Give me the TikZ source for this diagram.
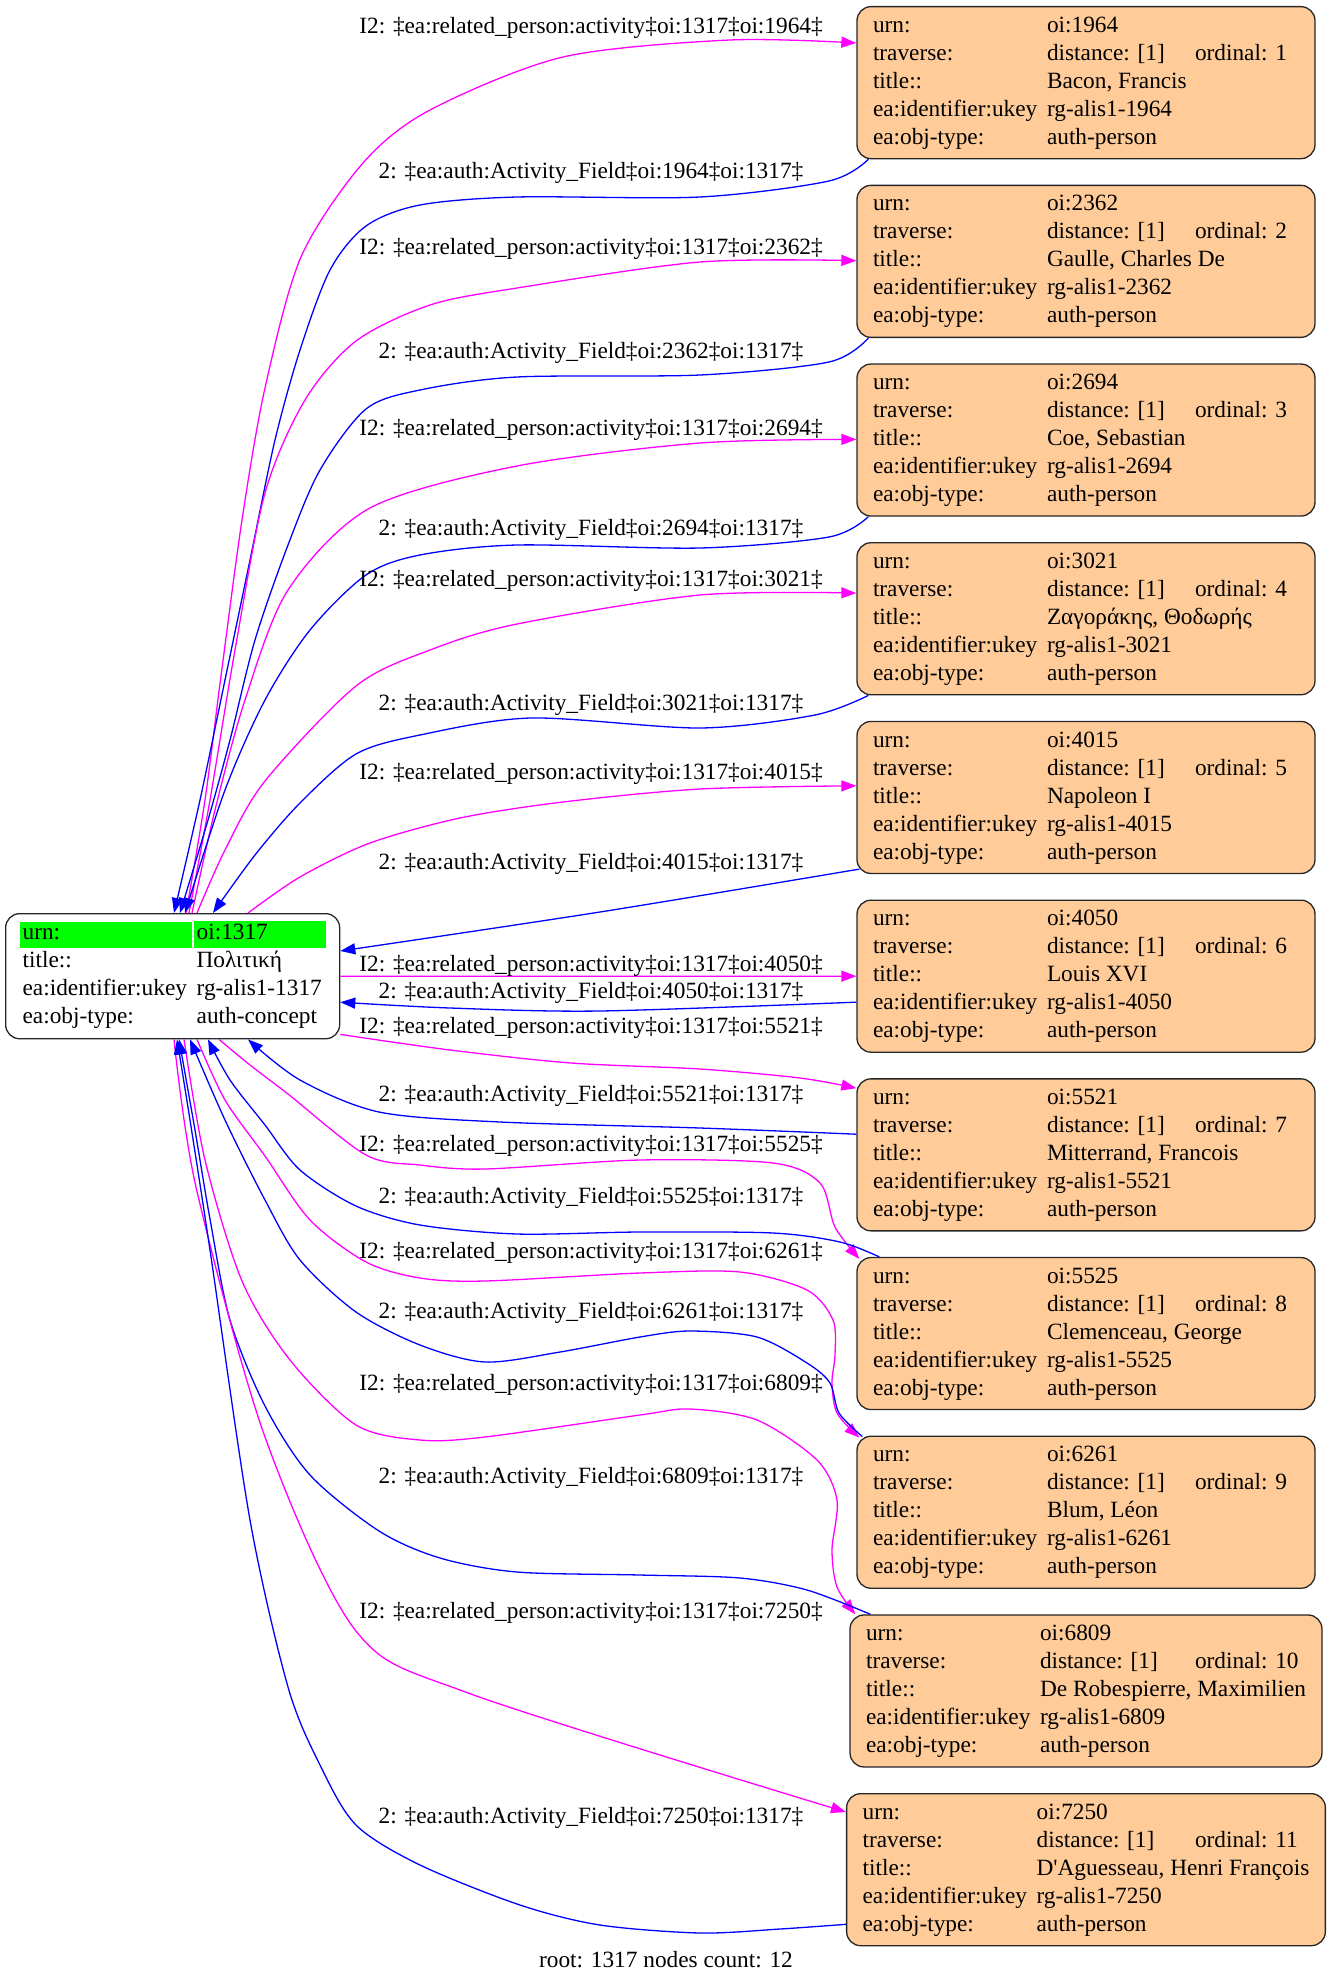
\documentclass[tikz,border=0pt]{standalone}
\usepackage{fontspec}
\setmainfont{Liberation Serif}[Ligatures=TeXOff]
\usepackage{array}
\usetikzlibrary{arrows.meta}
\definecolor{peach}{HTML}{FFCC99}
\definecolor{cellgreen}{HTML}{00FF00}
\definecolor{linkmag}{HTML}{FF00FF}
\definecolor{linkblue}{HTML}{0000FF}
\newcommand{\gvfont}{\fontsize{23.3pt}{28pt}\selectfont}
\newcommand{\card}[3]{%
\begin{tabular}{@{}w{l}{164pt}@{\hspace{10pt}}w{l}{117pt}@{\hspace{31pt}}w{l}{104pt}@{}}
urn: & \multicolumn{2}{@{}l@{}}{oi:#1}\\
traverse: & distance: [1] & ordinal: #2\\
title:: & \multicolumn{2}{@{}l@{}}{#3}\\
ea:identifier:ukey & \multicolumn{2}{@{}l@{}}{rg-alis1-#1}\\
ea:obj-type: & \multicolumn{2}{@{}l@{}}{auth-person}
\end{tabular}}
\newcommand{\greencell}[2]{\colorbox{cellgreen}{\makebox[#1][l]{\rule[-5.5pt]{0pt}{20.5pt}#2}}}

\begin{document}
\begin{tikzpicture}[x=1pt,y=-1pt,
    person/.style={draw=black!85, line width=1.3pt, fill=peach, rounded corners=14pt,
      inner xsep=16pt, inner ysep=6pt, anchor=north, font=\gvfont},
    concept/.style={draw=black!85, line width=1.3pt, rounded corners=14pt,
      inner xsep=14pt, inner ysep=6.5pt, anchor=north west, font=\gvfont},
    lbl/.style={inner sep=0pt, font=\gvfont},
    mline/.style={draw=linkmag, line width=1.3pt, -{Triangle[length=15pt,width=11pt]}},
    bline/.style={draw=linkblue, line width=1.3pt, -{Triangle[length=15pt,width=11pt]}}]
\useasboundingbox (0,0) rectangle (1333,1983);

\node[concept] (root) at (5,913) {\begin{tabular}{@{}l@{}l@{}}
\greencell{166pt}{urn:} & \hspace{2pt}\greencell{126pt}{oi:1317}\\
\hspace{3pt}title:: & \hspace{5pt}Πολιτική\\
\hspace{3pt}ea:identifier:ukey & \hspace{5pt}rg-alis1-1317\\
\hspace{3pt}ea:obj-type: & \hspace{5pt}auth-concept
\end{tabular}};

\node[person] (p1) at (1086,6) {\card{1964}{1}{Bacon, Francis}};
\node[person] (p2) at (1086,184.7) {\card{2362}{2}{Gaulle, Charles De}};
\node[person] (p3) at (1086,363.4) {\card{2694}{3}{Coe, Sebastian}};
\node[person] (p4) at (1086,542.1) {\card{3021}{4}{Ζαγοράκης, Θοδωρής}};
\node[person] (p5) at (1086,720.8) {\card{4015}{5}{Napoleon I}};
\node[person] (p6) at (1086,899.5) {\card{4050}{6}{Louis XVI}};
\node[person] (p7) at (1086,1078.2) {\card{5521}{7}{Mitterrand, Francois}};
\node[person] (p8) at (1086,1256.9) {\card{5525}{8}{Clemenceau, George}};
\node[person] (p9) at (1086,1435.6) {\card{6261}{9}{Blum, Léon}};
\node[person] (p10) at (1086,1614.3) {\card{6809}{10}{De Robespierre, Maximilien}};
\node[person] (p11) at (1086,1793) {\card{7250}{11}{D'Aguesseau, Henri François}};

\draw[mline] plot[smooth] coordinates {([shift={(181,0)}]root.north west) (205,800) (221,676) (242,520) (265,388) (301,257) (363,163) (430,110) (563,57) (730,40) ([shift={(0,37)}]p1.north west)};
\draw[bline] plot[smooth] coordinates {([shift={(12,0)}]p1.south west) (829,181) (700,197) (517,197) (420,205) (366,226) (330,270) (300,350) (275,440) (250,560) (225,680) (200,800) ([shift={(169,0)}]root.north west)};
\draw[mline] plot[smooth] coordinates {([shift={(184,0)}]root.north west) (210,800) (235,650) (265,493) (305,400) (356,341) (430,305) (517,288) (700,262) ([shift={(0,76)}]p2.north west)};
\draw[bline] plot[smooth] coordinates {([shift={(12,0)}]p2.south west) (829,362) (700,375) (517,377) (420,390) (366,409) (320,470) (288,545) (255,640) (230,740) (208,820) ([shift={(175,0)}]root.north west)};
\draw[mline] plot[smooth] coordinates {([shift={(187,0)}]root.north west) (215,810) (245,700) (288,590) (370,508) (517,466) (700,443) ([shift={(0,76)}]p3.north west)};
\draw[bline] plot[smooth] coordinates {([shift={(12,0)}]p3.south west) (829,537) (700,548) (517,545) (420,555) (366,575) (310,630) (265,700) (225,790) ([shift={(180,0)}]root.north west)};
\draw[mline] plot[smooth] coordinates {([shift={(192,0)}]root.north west) (225,850) (265,781) (356,686) (430,650) (517,624) (700,595) ([shift={(0,51)}]p4.north west)};
\draw[bline] plot[smooth] coordinates {([shift={(12,0)}]p4.south west) (815,715) (700,728) (531,718) (420,735) (356,754) (300,803) (255,855) ([shift={(208,0)}]root.north west)};
\draw[mline] plot[smooth] coordinates {([shift={(243,0)}]root.north west) (300,877) (370,843) (460,818) (563,802) (700,789) ([shift={(0,65)}]p5.north west)};
\draw[bline] plot[smooth] coordinates {([shift={(3,-5)}]p5.south west) (600,912) ([shift={(0,38)}]root.north east)};
\draw[mline] (root.east) -- (p6.west);
\draw[bline] plot[smooth] coordinates {([shift={(0,26)}]p6.west) (600,1011) (450,1008) ([shift={(0,26)}]root.east)};
\draw[mline] plot[smooth] coordinates {([shift={(0,-5)}]root.south east) (450,1050) (571,1063) (700,1069) (800,1078) ([shift={(0,10)}]p7.north west)};
\draw[bline] plot[smooth] coordinates {([shift={(0,56)}]p7.north west) (700,1128) (500,1122) (379,1112) (300,1080) ([shift={(243,0)}]root.south west)};
\draw[mline] plot[smooth] coordinates {([shift={(214,0)}]root.south west) (250,1065) (288,1094) (366,1155) (420,1165) (485,1169) (640,1160) (773,1163) (820,1183) (835,1227) ([shift={(3,2)}]p8.north west)};
\draw[bline] plot[smooth] coordinates {([shift={(23,0)}]p8.north west) (840,1242) (773,1233) (640,1232) (517,1234) (420,1225) (356,1206) (300,1170) (265,1125) (230,1080) ([shift={(203,0)}]root.south west)};
\draw[mline] plot[smooth] coordinates {([shift={(192,0)}]root.south west) (225,1100) (265,1156) (310,1220) (366,1262) (420,1278) (485,1281) (640,1273) (740,1272) (807,1290) (833,1320) (835,1355) (832,1383) (837,1413) ([shift={(3,2)}]p9.north west)};
\draw[bline] plot[smooth] coordinates {([shift={(6,1)}]p9.north west) (839,1413) (830,1383) (807,1363) (757,1337) (690,1331) (640,1337) (560,1352) (485,1362) (420,1345) (356,1312) (300,1260) (265,1200) (225,1120) ([shift={(185,0)}]root.south west)};
\draw[mline] plot[smooth] coordinates {([shift={(179,0)}]root.south west) (205,1160) (242,1281) (290,1360) (356,1425) (420,1440) (485,1437) (640,1415) (690,1409) (757,1420) (817,1460) (837,1500) (832,1550) (837,1587) ([shift={(6,0)}]p10.north west)};
\draw[bline] plot[smooth] coordinates {([shift={(21,0)}]p10.north west) (807,1590) (740,1578) (640,1575) (517,1572) (440,1558) (379,1531) (310,1475) (265,1406) (230,1320) (210,1219) (195,1130) ([shift={(174,0)}]root.south west)};
\draw[mline] plot[smooth] coordinates {([shift={(169,0)}]root.south west) (196,1187) (265,1437) (356,1631) (471,1694) ([shift={(0,19)}]p11.north west)};
\draw[bline] plot[smooth] coordinates {([shift={(0,-22)}]p11.south west) (780,1929) (700,1933) (600,1925) (520,1905) (420,1865) (356,1825) (320,1765) (288,1687) (250,1520) (210,1250) (190,1120) ([shift={(172,0)}]root.south west)};

\node[lbl] (lm1) at (591,28) {I2: ‡ea:related\_person:activity‡oi:1317‡oi:1964‡};
\node[lbl] (lb1) at (591,173) {2: ‡ea:auth:Activity\_Field‡oi:1964‡oi:1317‡};
\node[lbl] (lm2) at (591,249) {I2: ‡ea:related\_person:activity‡oi:1317‡oi:2362‡};
\node[lbl] (lb2) at (591,353) {2: ‡ea:auth:Activity\_Field‡oi:2362‡oi:1317‡};
\node[lbl] (lm3) at (591,430) {I2: ‡ea:related\_person:activity‡oi:1317‡oi:2694‡};
\node[lbl] (lb3) at (591,530) {2: ‡ea:auth:Activity\_Field‡oi:2694‡oi:1317‡};
\node[lbl] (lm4) at (591,581) {I2: ‡ea:related\_person:activity‡oi:1317‡oi:3021‡};
\node[lbl] (lb4) at (591,705) {2: ‡ea:auth:Activity\_Field‡oi:3021‡oi:1317‡};
\node[lbl] (lm5) at (591,774) {I2: ‡ea:related\_person:activity‡oi:1317‡oi:4015‡};
\node[lbl] (lb5) at (591,864) {2: ‡ea:auth:Activity\_Field‡oi:4015‡oi:1317‡};
\node[lbl] (lm6) at (591,966) {I2: ‡ea:related\_person:activity‡oi:1317‡oi:4050‡};
\node[lbl] (lb6) at (591,993) {2: ‡ea:auth:Activity\_Field‡oi:4050‡oi:1317‡};
\node[lbl] (lm7) at (591,1028) {I2: ‡ea:related\_person:activity‡oi:1317‡oi:5521‡};
\node[lbl] (lb7) at (591,1096) {2: ‡ea:auth:Activity\_Field‡oi:5521‡oi:1317‡};
\node[lbl] (lm8) at (591,1146) {I2: ‡ea:related\_person:activity‡oi:1317‡oi:5525‡};
\node[lbl] (lb8) at (591,1198) {2: ‡ea:auth:Activity\_Field‡oi:5525‡oi:1317‡};
\node[lbl] (lm9) at (591,1253) {I2: ‡ea:related\_person:activity‡oi:1317‡oi:6261‡};
\node[lbl] (lb9) at (591,1313) {2: ‡ea:auth:Activity\_Field‡oi:6261‡oi:1317‡};
\node[lbl] (lm10) at (591,1385) {I2: ‡ea:related\_person:activity‡oi:1317‡oi:6809‡};
\node[lbl] (lb10) at (591,1478) {2: ‡ea:auth:Activity\_Field‡oi:6809‡oi:1317‡};
\node[lbl] (lm11) at (591,1613) {I2: ‡ea:related\_person:activity‡oi:1317‡oi:7250‡};
\node[lbl] (lb11) at (591,1818) {2: ‡ea:auth:Activity\_Field‡oi:7250‡oi:1317‡};
\node[lbl] (footer) at (666,1960) {root: 1317 nodes count: 12};
\end{tikzpicture}
\end{document}
